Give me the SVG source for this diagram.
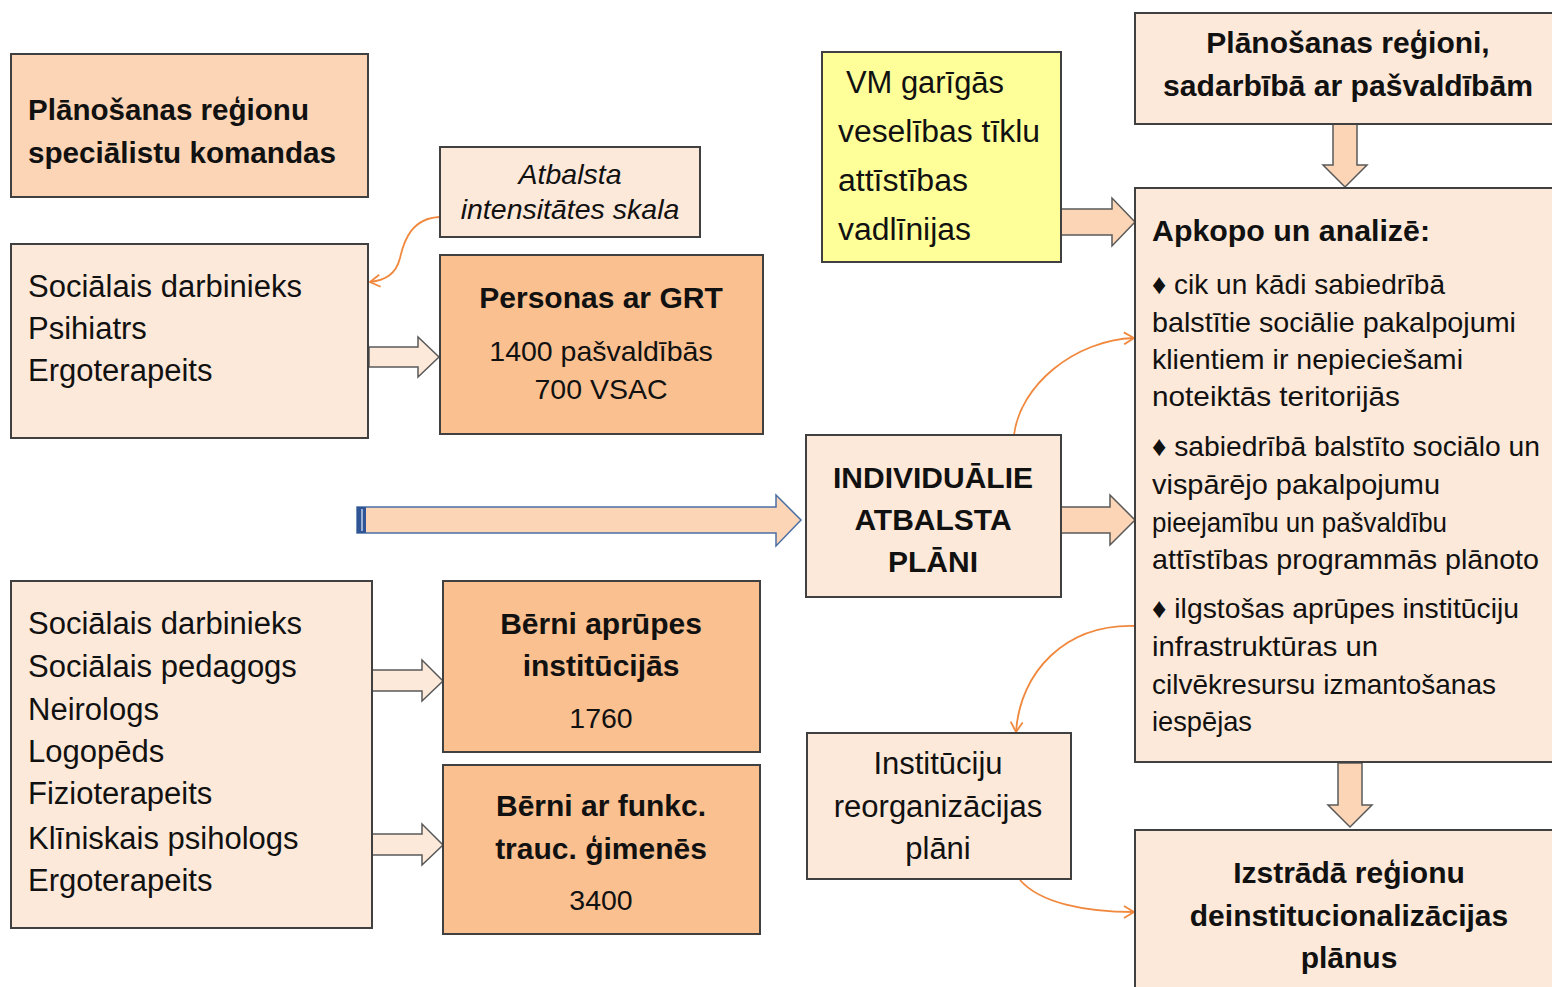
<svg xmlns="http://www.w3.org/2000/svg" width="1552" height="987" viewBox="0 0 1552 987">
<defs>
<style>
.box{stroke:#404040;stroke-width:2}
.f1{fill:#FBD5B5}
.f2{fill:#FDE9D9}
.f3{fill:#FAC090}
.f4{fill:#FFFF99}
text{font-family:"Liberation Sans",Arial,sans-serif;fill:#111}
.t{font-size:28.5px}
.tl{font-size:31px}
.tb{font-size:30px;font-weight:bold}
.c{text-anchor:middle}
.barrow{fill:#FBD5B5;stroke:#595959;stroke-width:1.5}
.carrow{fill:none;stroke:#F0883E;stroke-width:1.8}
</style>
<marker id="ah" markerWidth="14" markerHeight="14" refX="11" refY="7" orient="auto" markerUnits="userSpaceOnUse">
<path d="M1,1 L11,7 L1,13" fill="none" stroke="#F0883E" stroke-width="1.8"/>
</marker>
</defs>
<rect width="1552" height="987" fill="#ffffff"/>

<g id="connectors">
<path class="barrow" style="fill:#FDE9D9" d="M369,347 H418 V337 L439,357 L418,377 V367 H369 Z"/>
<path class="barrow" style="fill:#FDE9D9" d="M372,670 H422 V660 L443,681 L422,701 V691 H372 Z"/>
<path class="barrow" style="fill:#FDE9D9" d="M372,834 H422 V824 L443,845 L422,865 V855 H372 Z"/>
<path class="barrow" style="stroke:#4A6FA5" d="M357,507 H776 V495 L801,520 L776,546 V533 H357 Z"/>
<rect x="357" y="507" width="9" height="26" fill="#2F5597"/>
<line x1="362" y1="509" x2="362" y2="531" stroke="#BFD0EA" stroke-width="1.5"/>
<path class="barrow" d="M1061,209 H1112 V198 L1135,222 L1112,246 V235 H1061 Z"/>
<path class="barrow" d="M1061,507 H1110 V495 L1135,520 L1110,545 V533 H1061 Z"/>
<path class="barrow" d="M1333,124 H1357 V165 H1367 L1345,187 L1323,165 H1333 Z"/>
<path class="barrow" d="M1338,763 H1362 V805 H1372 L1350,827 L1328,805 H1338 Z"/>
<path class="carrow" marker-end="url(#ah)" d="M440,217 C412,218 404,240 400,258 C396,274 386,280 370,282"/>
<path class="carrow" marker-end="url(#ah)" d="M1014,435 C1020,385 1075,340 1134,338"/>
<path class="carrow" marker-end="url(#ah)" d="M1135,626 C1065,624 1020,672 1016,732"/>
<path class="carrow" marker-end="url(#ah)" d="M1020,880 C1040,903 1085,912 1134,912"/>
</g>

<g id="n-team">
<rect class="box f1" x="11" y="54" width="357" height="143"/>
<text class="tb" x="28" y="120" textLength="281" lengthAdjust="spacingAndGlyphs">Plānošanas  reģionu</text>
<text class="tb" x="28" y="163" textLength="308" lengthAdjust="spacingAndGlyphs">speciālistu  komandas</text>
</g>

<g id="n-staff1">
<rect class="box f2" x="11" y="244" width="357" height="194"/>
<text class="tl" x="28" y="297">Sociālais darbinieks</text>
<text class="tl" x="28" y="339">Psihiatrs</text>
<text class="tl" x="28" y="381">Ergoterapeits</text>
</g>

<g id="n-scale">
<rect class="box f2" x="440" y="147" width="260" height="90"/>
<text class="t c" x="570" y="184" font-style="italic">Atbalsta</text>
<text class="t c" x="570" y="219" font-style="italic">intensitātes skala</text>
</g>

<g id="n-grt">
<rect class="box f3" x="440" y="255" width="323" height="179"/>
<text class="tb c" x="601" y="308">Personas  ar GRT</text>
<text class="t c" x="601" y="361">1400 pašvaldībās</text>
<text class="t c" x="601" y="399">700 VSAC</text>
</g>

<g id="n-vm">
<rect class="box f4" x="822" y="52" width="239" height="210"/>
<text class="tl" x="846" y="93" textLength="158" lengthAdjust="spacingAndGlyphs">VM garīgās</text>
<text class="tl" x="838" y="142" textLength="202" lengthAdjust="spacingAndGlyphs">veselības tīklu</text>
<text class="tl" x="838" y="191" textLength="130" lengthAdjust="spacingAndGlyphs">attīstības</text>
<text class="tl" x="838" y="240" textLength="133" lengthAdjust="spacingAndGlyphs">vadlīnijas</text>
</g>

<g id="n-regions">
<rect class="box f2" x="1135" y="13" width="420" height="111"/>
<text class="tb c" x="1348" y="53">Plānošanas  reģioni,</text>
<text class="tb c" x="1348" y="96" textLength="370" lengthAdjust="spacingAndGlyphs">sadarbībā  ar pašvaldībām</text>
</g>

<g id="n-iap">
<rect class="box f2" x="806" y="435" width="255" height="162"/>
<text class="tb c" x="933" y="488">INDIVIDUĀLIE</text>
<text class="tb c" x="933" y="530">ATBALSTA</text>
<text class="tb c" x="933" y="572">PLĀNI</text>
</g>

<g id="n-analyze">
<rect class="box f2" x="1135" y="188" width="420" height="574"/>
<text class="tb" x="1152" y="241" textLength="278" lengthAdjust="spacingAndGlyphs">Apkopo un analizē:</text>
<text class="t" x="1152" y="294" textLength="293" lengthAdjust="spacingAndGlyphs">♦ cik un kādi sabiedrībā</text>
<text class="t" x="1152" y="332" textLength="364" lengthAdjust="spacingAndGlyphs">balstītie sociālie pakalpojumi</text>
<text class="t" x="1152" y="369" textLength="311" lengthAdjust="spacingAndGlyphs">klientiem ir nepieciešami</text>
<text class="t" x="1152" y="406" textLength="248" lengthAdjust="spacingAndGlyphs">noteiktās teritorijās</text>
<text class="t" x="1152" y="456" textLength="388" lengthAdjust="spacingAndGlyphs">♦ sabiedrībā balstīto sociālo un</text>
<text class="t" x="1152" y="494" textLength="288" lengthAdjust="spacingAndGlyphs">vispārējo pakalpojumu</text>
<text class="t" x="1152" y="532" textLength="295" lengthAdjust="spacingAndGlyphs">pieejamību un pašvaldību</text>
<text class="t" x="1152" y="569" textLength="387" lengthAdjust="spacingAndGlyphs">attīstības  programmās plānoto</text>
<text class="t" x="1152" y="618" textLength="367" lengthAdjust="spacingAndGlyphs">♦ ilgstošas aprūpes institūciju</text>
<text class="t" x="1152" y="656" textLength="226" lengthAdjust="spacingAndGlyphs">infrastruktūras un</text>
<text class="t" x="1152" y="694" textLength="344" lengthAdjust="spacingAndGlyphs">cilvēkresursu izmantošanas</text>
<text class="t" x="1152" y="731" textLength="100" lengthAdjust="spacingAndGlyphs">iespējas</text>
</g>

<g id="n-reorg">
<rect class="box f2" x="807" y="733" width="264" height="146"/>
<text class="tl c" x="938" y="774">Institūciju</text>
<text class="tl c" x="938" y="817">reorganizācijas</text>
<text class="tl c" x="938" y="859">plāni</text>
</g>

<g id="n-develop">
<rect class="box f2" x="1135" y="830" width="420" height="170"/>
<text class="tb c" x="1349" y="883">Izstrādā  reģionu</text>
<text class="tb c" x="1349" y="926">deinstitucionalizācijas</text>
<text class="tb c" x="1349" y="968">plānus</text>
</g>

<g id="n-staff2">
<rect class="box f2" x="11" y="581" width="361" height="347"/>
<text class="tl" x="28" y="634">Sociālais darbinieks</text>
<text class="tl" x="28" y="677">Sociālais pedagogs</text>
<text class="tl" x="28" y="720">Neirologs</text>
<text class="tl" x="28" y="762">Logopēds</text>
<text class="tl" x="28" y="804">Fizioterapeits</text>
<text class="tl" x="28" y="849">Klīniskais psihologs</text>
<text class="tl" x="28" y="891">Ergoterapeits</text>
</g>

<g id="n-children1">
<rect class="box f3" x="443" y="581" width="317" height="171"/>
<text class="tb c" x="601" y="634">Bērni aprūpes</text>
<text class="tb c" x="601" y="676">institūcijās</text>
<text class="t c" x="601" y="728">1760</text>
</g>

<g id="n-children2">
<rect class="box f3" x="443" y="765" width="317" height="169"/>
<text class="tb c" x="601" y="816">Bērni ar funkc.</text>
<text class="tb c" x="601" y="859">trauc. ģimenēs</text>
<text class="t c" x="601" y="910">3400</text>
</g>
</svg>
